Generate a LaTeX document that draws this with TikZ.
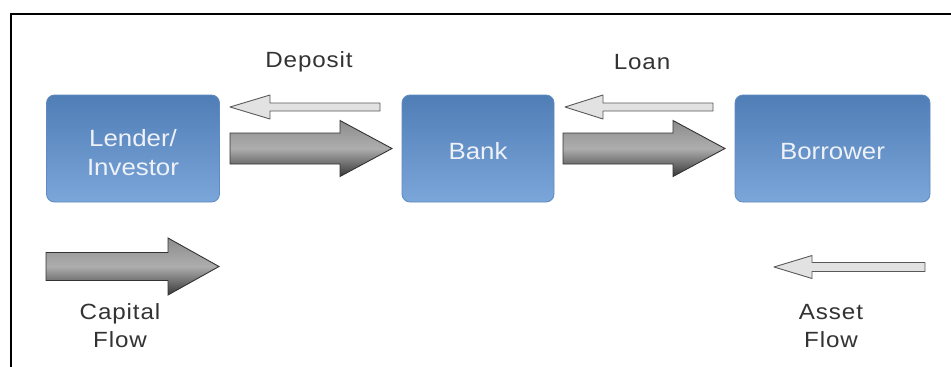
\documentclass[tikz,border=0pt]{standalone}
\usepackage{fontspec}
\setmainfont{Liberation Sans}
\newfontfamily\labfont[FakeStretch=1.1,LetterSpace=4]{Liberation Sans}
\newfontfamily\boxfont[FakeStretch=1.1]{Liberation Sans}
\definecolor{boxtop}{HTML}{4F7DB5}
\definecolor{boxbot}{HTML}{7BA6DA}
\definecolor{boxline}{HTML}{5F8BC0}
\definecolor{boxtext}{HTML}{EEF2F8}
\definecolor{labtext}{HTML}{333333}
\definecolor{thinfill}{HTML}{E2E2E2}
\newcommand\blockarr[7]{% style, tail x, head base x, tip x, y, shaft half, head half
  \path[#1] (#2,#5-#6) -- (#3,#5-#6) -- (#3,#5-#7) -- (#4,#5) -- (#3,#5+#7) -- (#3,#5+#6) -- (#2,#5+#6) -- cycle;}
\tikzset{
  box/.style={draw=boxline, line width=0.8pt, rounded corners=8pt, top color=boxtop, bottom color=boxbot,
    inner sep=0pt, minimum height=107pt},
  boxlabel/.style={text=boxtext, font=\boxfont\fontsize{23.5}{29}\selectfont, align=center, inner sep=0pt},
  lab/.style={text=labtext, font=\labfont\fontsize{22}{28}\selectfont, align=center, inner sep=0pt},
  bigarr/.style={draw=black!80, line width=0.9pt, top color=black!45, bottom color=black!78, middle color=black!32, shading angle=0},
  thinarr/.style={draw=black!65, line width=0.9pt, fill=thinfill, line join=round},
}
\begin{document}
\begin{tikzpicture}[x=1pt,y=-1pt]
\useasboundingbox (0,0) rectangle (951,367);
\fill[white] (0,0) rectangle (951,367);
\draw[line width=2.2pt] (11,367) -- (11,14) -- (951,14);
% boxes
\node[box, minimum width=173pt] (lender) at (133,148.5) {};
\node[box, minimum width=152pt] (bank) at (478,148.5) {};
\node[box, minimum width=195pt] (borrower) at (832.5,148.5) {};
\node[boxlabel] (lendertext) at ([yshift=-4pt]lender.center) {Lender/\\Investor};
\node[boxlabel] (banktext) at ([yshift=-3pt]bank.center) {Bank};
\node[boxlabel] (borrowertext) at ([yshift=-3pt]borrower.center) {Borrower};
% labels
\node[lab] (deposit) at (309,62) {Deposit};
\node[lab] (loan) at (642,62) {Loan};
\node[lab] (capital) at (120,326) {Capital\\Flow};
\node[lab] (asset) at (831,326) {Asset\\Flow};
% arrows
\blockarr{thinarr}{380}{270}{230}{107}{4}{12}
\blockarr{bigarr}{230}{340}{392}{148.5}{15.5}{28}
\blockarr{thinarr}{713}{603}{565}{107}{4}{12}
\blockarr{bigarr}{563}{673}{725}{148.5}{15.5}{28}
\blockarr{bigarr}{46}{168}{219}{266.5}{14}{28.5}
\blockarr{thinarr}{925}{812}{774}{267}{4.5}{11.5}
\end{tikzpicture}
\end{document}
